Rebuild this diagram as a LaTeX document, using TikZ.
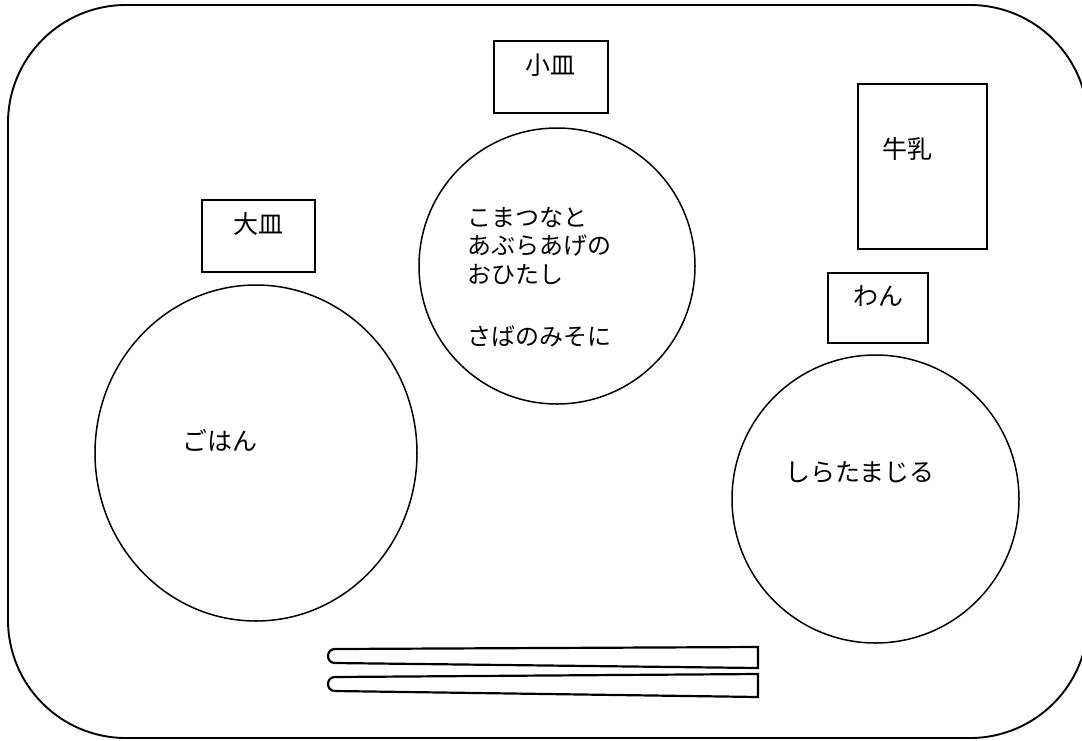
\documentclass[tikz,border=0pt]{standalone}
\usepackage{fontspec}
\newfontfamily\jp{Noto Sans CJK JP}
\tikzset{
  tray/.style={draw=black, line width=1.9pt, rounded corners=118pt},
  labelbox/.style={draw=black, line width=1.6pt},
  dish/.style={draw=black, line width=1.5pt},
  stick/.style={draw=black, line width=2.2pt, line join=miter},
  lbl/.style={font=\jp\fontsize{25}{30}\selectfont, inner sep=0pt},
  menu/.style={font=\jp\fontsize{24}{30}\selectfont, inner sep=0pt, anchor=west}
}
\begin{document}
\begin{tikzpicture}[x=1pt,y=-1pt]
\useasboundingbox (0,0) rectangle (1082,740);
% tray
\draw[tray] (8,5) rectangle (1088,738);
% label boxes
\draw[labelbox] (494,41) rectangle (608,113);
\node[lbl] (kozara) at (550,65) {小皿};
\draw[labelbox] (202,200) rectangle (315,272);
\node[lbl] (oozara) at (258,224) {大皿};
\draw[labelbox] (858,84) rectangle (987,249);
\node[lbl] (milk) at (907,149) {牛乳};
\draw[labelbox] (828,273) rectangle (928,343);
\node[lbl] (wan) at (878,296) {わん};
% dishes
\draw[dish] (557,266) circle[radius=138pt];
\draw[dish] (256,453) ellipse[x radius=161pt, y radius=168pt];
\draw[dish] (875.5,499) ellipse[x radius=143.5pt, y radius=144pt];
% menu texts
\node[menu] (m1) at (467,217) {こまつなと};
\node[menu] (m2) at (467,246) {あぶらあげの};
\node[menu] (m3) at (467,275) {おひたし};
\node[menu] (m4) at (467,336) {さばのみそに};
\node[lbl] (gohan) at (220,440) {ごはん};
\node[lbl] (soup) at (860,472) {しらたまじる};
% chopsticks
\draw[stick] (758,647) -- (335,649) .. controls (325.7,649) and (325.7,663) .. (335,663) -- (758,668) -- cycle;
\draw[stick] (758,674) -- (335,677) .. controls (325.7,677) and (325.7,691) .. (335,691) -- (758,697) -- cycle;
\end{tikzpicture}
\end{document}
